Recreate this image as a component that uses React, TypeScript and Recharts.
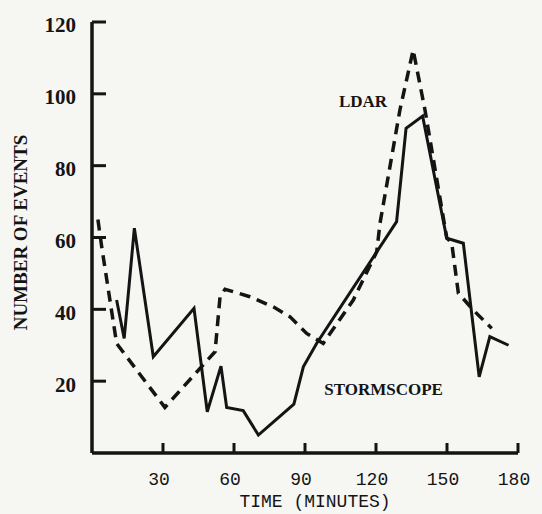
import { LineChart, Line, XAxis, YAxis, ReferenceDot } from "recharts";

// solid trace (time in minutes, number of events)
const solidT = [10.4, 13.6, 17.9, 25.9, 43.1, 48.7, 54.5, 56.9, 63.9, 70.3, 85.3, 89.3, 94.9, 128.7, 132.7, 139.7, 149.9, 156.9, 163.6, 168.1, 176];
const solidN = [42.6, 31.9, 62.6, 26.8, 40.3, 11.5, 24.2, 12.7, 11.8, 5, 13.6, 24, 30.5, 64.4, 90.4, 93.8, 59.8, 58.4, 21.2, 32.4, 30];

// dashed trace
const dashT = [2.5, 4.1, 10.4, 30.8, 52, 54.1, 56.2, 66.7, 76.6, 83.7, 90.7, 97.7, 110.4, 120.3, 121.7, 130.1, 135.7, 140.7, 149.9, 152, 154.8, 161.1, 168.9];
const dashN = [65, 57.4, 30.5, 12.7, 28.2, 43.5, 45.6, 43.5, 40.7, 37.9, 33.3, 30.5, 42.6, 56, 64, 95.5, 112.2, 95.5, 59.9, 58.4, 44.5, 39.8, 34.7];

const xTicks = [30, 60, 90, 120, 150, 180];
const yTicks = [20, 40, 60, 80, 100, 120];

const solid = solidT.map((t, i) => ({ t, n: solidN[i] }));
const dashed = dashT.map((t, i) => ({ t, n: dashN[i] }));

const ink = "#141414";
const serif = "'Liberation Serif', 'DejaVu Serif', serif";
const mono = "'Liberation Mono', 'DejaVu Sans Mono', monospace";

function YTitle({ viewBox }: any) {
  const x = 20;
  const y = viewBox.y + viewBox.height / 2 - 5;
  return (
    <text x={x} y={y} transform={`rotate(-90, ${x}, ${y})`} textAnchor="middle" dominantBaseline="central"
      fill={ink} fontFamily={serif} fontSize={19} fontWeight="bold">
      NUMBER OF EVENTS
    </text>
  );
}

function XTitle({ viewBox }: any) {
  return (
    <text x={viewBox.x + viewBox.width / 2 + 10} y={viewBox.y + 54} textAnchor="middle"
      fill={ink} fontFamily={mono} fontSize={18}>
      TIME (MINUTES)
    </text>
  );
}

export default function App() {
  return (
    <div style={{ position: "absolute", left: 0, top: 0, width: 542, height: 514, background: "#f6f6f3" }}>
      <LineChart width={542} height={514} margin={{ top: 22, right: 24, left: 0, bottom: 0 }}>
        <XAxis
          dataKey="t" type="number" domain={[0, 180]} ticks={xTicks} height={61}
          axisLine={{ stroke: ink, strokeWidth: 3.5 }}
          tickLine={{ stroke: ink, strokeWidth: 3 }}
          tickSize={-10} tickMargin={29}
          tick={{ fill: ink, fontSize: 18, fontFamily: mono, dx: -4 }}
          label={<XTitle />}
        />
        <YAxis
          type="number" domain={[0, 120]} ticks={yTicks} width={92}
          axisLine={{ stroke: ink, strokeWidth: 3.5 }}
          tickLine={{ stroke: ink, strokeWidth: 3 }}
          tickSize={-14} tickMargin={30}
          tick={{ fill: ink, fontSize: 21, fontFamily: serif, fontWeight: "bold", dy: 3 }}
          label={<YTitle />}
        />
        <Line data={dashed} dataKey="n" type="linear" stroke={ink} strokeWidth={3.5}
          strokeDasharray="11 7" dot={false} isAnimationActive={false} />
        <Line data={solid} dataKey="n" type="linear" stroke={ink} strokeWidth={3}
          dot={false} isAnimationActive={false} />
        <ReferenceDot x={114.5} y={98} r={0}
          label={{ value: "LDAR", position: "center", fill: ink, fontSize: 17, fontFamily: serif, fontWeight: "bold" }} />
        <ReferenceDot x={123.2} y={17.7} r={0}
          label={{ value: "STORMSCOPE", position: "center", fill: ink, fontSize: 17, fontFamily: serif, fontWeight: "bold" }} />
      </LineChart>
    </div>
  );
}
